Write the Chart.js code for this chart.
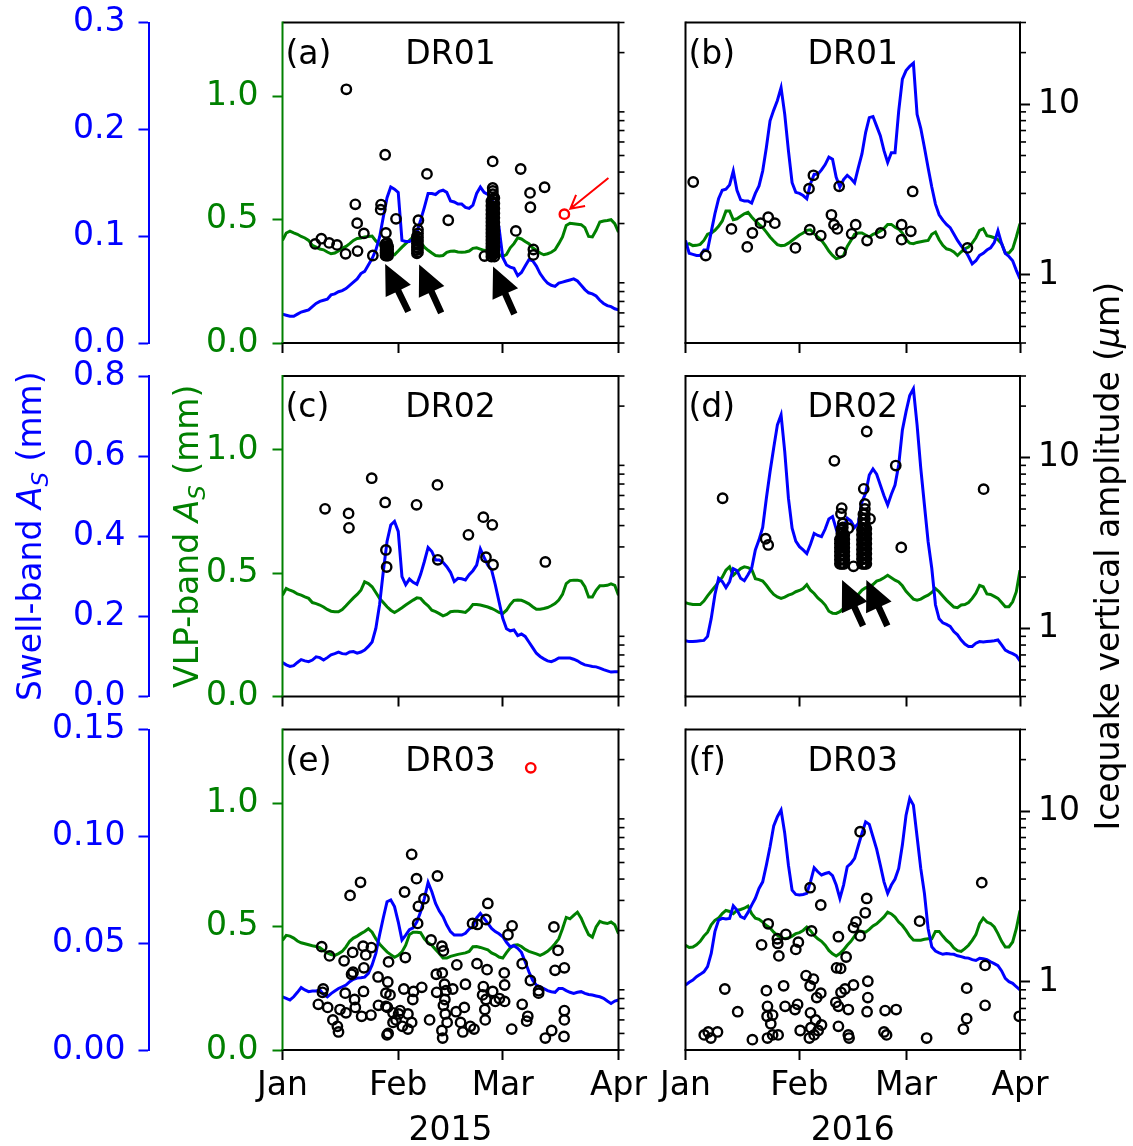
<!DOCTYPE html>
<html>
<head>
<meta charset="utf-8">
<script src="https://cdn.jsdelivr.net/npm/chart.js"></script>
<style>
  html, body { margin: 0; padding: 0; background: #fff; }
  #wrap { position: relative; width: 1133px; height: 1146px; }
  #wrap canvas { position: absolute; left: 0; top: 0; }
</style>
</head>
<body>
<div id="wrap"></div>
<script>
// ---- tick labels / axis values ----
const monthNames = ['Jan', 'Feb', 'Mar', 'Apr'];
const monthDays2015 = [0, 31, 59, 90];
const monthDays2016 = [0, 31, 60, 91];
const yearLabels = ['2015', '2016'];
const stations = ['DR01', 'DR02', 'DR03'];
const panelTags = [['(a)', '(b)'], ['(c)', '(d)'], ['(e)', '(f)']];

const swellTicks = [[0, 0.1, 0.2, 0.3], [0, 0.2, 0.4, 0.6, 0.8], [0, 0.05, 0.10, 0.15]];
const swellMax = [0.3, 0.8, 0.15];
const swellDecimals = [1, 1, 2];
const vlpTicks = [0, 0.5, 1.0];
const vlpMax = 1.3;
const quakeMin = 0.4, quakeMax = 30;
const quakeMajor = [1, 10];
const quakeMinor = [0.4, 0.5, 0.6, 0.7, 0.8, 0.9, 2, 3, 4, 5, 6, 7, 8, 9, 20, 30];

// ---- daily swell-band amplitude (mm), day 0 = 1 Jan ----
const swellA = [0.027,0.026,0.025,0.025,0.027,0.029,0.030,0.031,0.034,0.037,
 0.039,0.040,0.041,0.045,0.046,0.048,0.049,0.051,0.054,0.057,
 0.060,0.065,0.067,0.073,0.079,0.087,0.099,0.118,0.136,0.146,
 0.144,0.141,0.096,0.095,0.095,0.097,0.104,0.115,0.127,0.140,
 0.140,0.139,0.142,0.143,0.141,0.133,0.132,0.130,0.130,0.127,
 0.126,0.129,0.140,0.146,0.141,0.139,0.135,0.127,0.108,0.080,
 0.073,0.071,0.070,0.063,0.066,0.072,0.078,0.077,0.072,0.065,
 0.060,0.056,0.054,0.053,0.056,0.057,0.058,0.059,0.060,0.058,
 0.054,0.050,0.047,0.046,0.044,0.040,0.037,0.035,0.034,0.032,0.031];
const swellB = [0.096,0.084,0.083,0.082,0.082,0.087,0.087,0.104,0.121,0.135,
 0.143,0.144,0.148,0.161,0.143,0.134,0.133,0.133,0.131,0.140,
 0.147,0.161,0.183,0.208,0.218,0.227,0.239,0.214,0.180,0.150,
 0.141,0.140,0.138,0.135,0.149,0.158,0.158,0.162,0.167,0.174,
 0.172,0.155,0.146,0.153,0.157,0.154,0.150,0.164,0.177,0.197,
 0.211,0.212,0.203,0.194,0.180,0.169,0.178,0.178,0.217,0.247,
 0.255,0.259,0.262,0.214,0.201,0.183,0.164,0.146,0.130,0.120,
 0.115,0.111,0.108,0.102,0.096,0.091,0.087,0.081,0.074,0.077,
 0.082,0.084,0.087,0.089,0.094,0.105,0.093,0.084,0.081,0.077,0.068,0.060];
const swellC = [0.085,0.079,0.075,0.077,0.085,0.092,0.089,0.087,0.091,0.099,
 0.097,0.091,0.097,0.104,0.107,0.111,0.107,0.106,0.111,0.112,
 0.108,0.111,0.116,0.125,0.136,0.170,0.229,0.312,0.387,0.428,
 0.437,0.412,0.299,0.279,0.293,0.285,0.280,0.305,0.337,0.372,
 0.362,0.341,0.341,0.335,0.324,0.310,0.287,0.295,0.294,0.291,
 0.304,0.314,0.328,0.368,0.347,0.328,0.316,0.279,0.237,0.195,
 0.169,0.164,0.166,0.152,0.156,0.150,0.136,0.122,0.108,0.100,
 0.094,0.089,0.087,0.091,0.096,0.096,0.096,0.096,0.093,0.089,
 0.083,0.079,0.077,0.075,0.074,0.071,0.067,0.064,0.061,0.062,0.062];
const swellD = [0.139,0.137,0.137,0.138,0.139,0.140,0.150,0.195,0.254,0.295,
 0.287,0.272,0.287,0.319,0.314,0.295,0.289,0.304,0.320,0.366,
 0.391,0.422,0.495,0.561,0.621,0.678,0.703,0.611,0.495,0.420,
 0.388,0.374,0.366,0.357,0.380,0.407,0.402,0.399,0.418,0.443,
 0.449,0.418,0.388,0.420,0.445,0.438,0.422,0.432,0.486,0.507,
 0.553,0.568,0.555,0.528,0.501,0.478,0.505,0.528,0.578,0.665,
 0.711,0.751,0.768,0.678,0.570,0.478,0.387,0.320,0.229,0.194,
 0.184,0.180,0.175,0.162,0.154,0.141,0.131,0.125,0.125,0.133,
 0.137,0.136,0.137,0.138,0.139,0.141,0.129,0.116,0.111,0.107,0.102,0.089];
const swellE = [0.0249,0.0242,0.0234,0.0249,0.0270,0.0292,0.0281,0.0273,0.0276,0.0276,
 0.0281,0.0260,0.0249,0.0264,0.0276,0.0288,0.0296,0.0304,0.0320,0.0331,
 0.0337,0.0338,0.0341,0.0359,0.0398,0.0452,0.0538,0.0619,0.0694,0.0702,
 0.0671,0.0600,0.0515,0.0538,0.0563,0.0572,0.0600,0.0647,0.0710,0.0784,
 0.0741,0.0686,0.0650,0.0624,0.0585,0.0554,0.0538,0.0538,0.0538,0.0546,
 0.0566,0.0577,0.0619,0.0639,0.0616,0.0593,0.0569,0.0554,0.0544,0.0530,
 0.0504,0.0483,0.0488,0.0476,0.0457,0.0413,0.0366,0.0327,0.0304,0.0296,
 0.0288,0.0278,0.0273,0.0270,0.0288,0.0288,0.0278,0.0270,0.0265,0.0270,
 0.0273,0.0265,0.0260,0.0257,0.0253,0.0249,0.0242,0.0229,0.0218,0.0229,0.0234];
const swellF = [0.0304,0.0317,0.0327,0.0343,0.0354,0.0366,0.0390,0.0452,0.0554,0.0608,
 0.0616,0.0613,0.0616,0.0675,0.0655,0.0624,0.0616,0.0644,0.0678,0.0710,
 0.0756,0.0787,0.0865,0.0951,0.1049,0.1092,0.1123,0.1014,0.0865,0.0748,
 0.0728,0.0725,0.0728,0.0733,0.0787,0.0853,0.0834,0.0819,0.0826,0.0831,
 0.0816,0.0772,0.0710,0.0772,0.0858,0.0873,0.0897,0.0956,0.1014,0.1068,
 0.1056,0.0998,0.0940,0.0865,0.0787,0.0733,0.0772,0.0800,0.0850,0.0959,
 0.1099,0.1177,0.1146,0.0998,0.0850,0.0733,0.0569,0.0483,0.0463,0.0455,
 0.0448,0.0452,0.0449,0.0448,0.0441,0.0437,0.0432,0.0430,0.0423,0.0419,
 0.0429,0.0427,0.0423,0.0413,0.0404,0.0395,0.0370,0.0335,0.0320,0.0312,0.0296,0.0281];

// ---- daily VLP-band amplitude (mm) ----
const vlpA = [0.416,0.446,0.454,0.447,0.441,0.432,0.426,0.416,0.396,0.389,
 0.381,0.378,0.369,0.362,0.365,0.373,0.384,0.392,0.403,0.416,
 0.424,0.426,0.430,0.432,0.434,0.414,0.400,0.384,0.373,0.362,
 0.358,0.373,0.389,0.403,0.416,0.430,0.430,0.409,0.389,0.376,
 0.365,0.355,0.353,0.355,0.368,0.372,0.373,0.369,0.368,0.369,
 0.373,0.384,0.386,0.381,0.376,0.373,0.368,0.362,0.358,0.351,
 0.359,0.386,0.403,0.427,0.422,0.412,0.403,0.386,0.376,0.365,
 0.358,0.362,0.368,0.378,0.403,0.430,0.477,0.486,0.484,0.482,
 0.480,0.468,0.432,0.430,0.457,0.491,0.495,0.497,0.500,0.484,0.450];
const vlpB = [0.396,0.403,0.395,0.396,0.400,0.416,0.441,0.446,0.457,0.473,
 0.495,0.535,0.535,0.500,0.504,0.514,0.524,0.530,0.511,0.495,
 0.481,0.468,0.450,0.430,0.414,0.399,0.395,0.396,0.405,0.416,
 0.427,0.438,0.446,0.457,0.459,0.443,0.430,0.416,0.396,0.373,
 0.355,0.342,0.346,0.355,0.392,0.416,0.441,0.446,0.446,0.438,
 0.430,0.441,0.446,0.454,0.464,0.481,0.481,0.470,0.462,0.446,
 0.419,0.405,0.403,0.408,0.411,0.414,0.416,0.441,0.450,0.419,
 0.396,0.382,0.378,0.369,0.355,0.370,0.382,0.389,0.405,0.427,
 0.457,0.464,0.435,0.432,0.427,0.419,0.403,0.365,0.365,0.382,0.430,0.484];
const vlpC = [0.411,0.438,0.431,0.425,0.416,0.411,0.404,0.398,0.381,0.377,
 0.371,0.363,0.353,0.346,0.344,0.344,0.353,0.368,0.384,0.400,
 0.414,0.431,0.465,0.458,0.445,0.422,0.398,0.381,0.364,0.350,
 0.341,0.350,0.360,0.371,0.381,0.391,0.400,0.398,0.381,0.368,
 0.350,0.344,0.336,0.327,0.333,0.344,0.346,0.346,0.344,0.341,
 0.354,0.373,0.373,0.371,0.367,0.363,0.357,0.350,0.341,0.336,
 0.350,0.373,0.390,0.391,0.390,0.384,0.376,0.364,0.354,0.354,
 0.357,0.361,0.368,0.377,0.391,0.414,0.458,0.470,0.472,0.472,
 0.468,0.445,0.404,0.404,0.431,0.449,0.449,0.451,0.457,0.451,0.411];
const vlpD = [0.381,0.376,0.373,0.373,0.373,0.387,0.408,0.427,0.445,0.465,
 0.484,0.512,0.526,0.492,0.505,0.519,0.526,0.523,0.516,0.478,
 0.474,0.468,0.451,0.431,0.414,0.404,0.398,0.403,0.411,0.416,
 0.425,0.430,0.438,0.454,0.431,0.418,0.400,0.387,0.371,0.346,
 0.338,0.337,0.344,0.357,0.373,0.387,0.400,0.414,0.431,0.441,
 0.443,0.454,0.468,0.473,0.482,0.492,0.482,0.472,0.465,0.449,
 0.427,0.411,0.395,0.391,0.395,0.404,0.411,0.422,0.438,0.425,
 0.408,0.391,0.377,0.363,0.360,0.371,0.373,0.381,0.398,0.419,
 0.451,0.445,0.416,0.414,0.406,0.398,0.381,0.364,0.364,0.384,0.425,0.512];
const vlpE = [0.445,0.465,0.462,0.454,0.442,0.435,0.431,0.427,0.423,0.420,
 0.415,0.404,0.394,0.387,0.384,0.391,0.400,0.418,0.441,0.454,
 0.462,0.472,0.481,0.492,0.478,0.451,0.430,0.414,0.398,0.387,
 0.376,0.384,0.398,0.425,0.468,0.478,0.478,0.476,0.451,0.435,
 0.425,0.408,0.391,0.373,0.373,0.380,0.384,0.388,0.391,0.394,
 0.400,0.419,0.420,0.416,0.411,0.406,0.394,0.387,0.377,0.373,
 0.395,0.414,0.425,0.427,0.420,0.408,0.400,0.395,0.390,0.384,
 0.391,0.400,0.414,0.431,0.451,0.492,0.538,0.532,0.546,0.559,
 0.535,0.499,0.468,0.458,0.499,0.522,0.516,0.513,0.519,0.508,0.472];
const vlpF = [0.425,0.416,0.418,0.427,0.441,0.462,0.478,0.508,0.526,0.535,
 0.553,0.566,0.562,0.553,0.566,0.570,0.575,0.584,0.553,0.535,
 0.530,0.519,0.505,0.495,0.478,0.465,0.457,0.451,0.454,0.462,
 0.472,0.476,0.485,0.499,0.484,0.465,0.451,0.441,0.425,0.404,
 0.390,0.381,0.391,0.406,0.425,0.441,0.462,0.484,0.481,0.478,
 0.489,0.503,0.512,0.526,0.540,0.559,0.552,0.539,0.519,0.505,
 0.485,0.462,0.446,0.445,0.445,0.449,0.451,0.451,0.481,0.481,
 0.462,0.445,0.433,0.414,0.403,0.400,0.411,0.425,0.445,0.468,
 0.512,0.535,0.519,0.513,0.499,0.472,0.441,0.418,0.418,0.438,0.492,0.566];

// ---- icequakes: [day, vertical amplitude (um)] ----
const quakesA = [[17.1,12.2],[27.5,5.05],[38.7,3.9],[56.3,4.62],[63.8,4.17],[70.2,3.26],[66.3,3.02],[66.4,2.49],
 [19.5,2.59],[26.4,2.58],[26.3,2.41],[30.4,2.13],[44.4,2.09],[36.4,2.09],[20.0,2.01],[62.5,1.81],[21.8,1.75],
 [27.7,1.76],[10.4,1.63],[8.75,1.52],[12.5,1.54],[14.6,1.50],[20.1,1.38],[16.9,1.33],[24.2,1.30],[54.1,1.29],
 [67.2,1.41],[67.2,1.31],[56.3,3.23],
 // swarm near 28 Jan
 [27.6,1.30],[27.6,1.35],[27.6,1.40],[27.6,1.46],[27.6,1.52],[28.0,1.30],[28.0,1.34],[28.0,1.38],[28.0,1.43],
 [28.0,1.48],[28.0,1.54],[28.3,1.30],[28.3,1.35],[28.3,1.41],[28.3,1.47],
 // swarm near 6 Feb
 [36.0,1.34],[36.0,1.40],[36.0,1.46],[36.0,1.53],[36.0,1.60],[36.0,1.68],[36.3,1.36],[36.3,1.43],[36.3,1.50],
 [36.3,1.58],[36.3,1.66],[36.3,1.75],[36.3,1.84],
 // swarm near 26 Feb
 [55.95,1.28],[55.95,1.34],[55.95,1.40],[55.95,1.46],[55.95,1.53],[55.95,1.60],[55.95,1.68],[55.95,1.76],
 [55.95,1.85],[55.95,1.94],[55.95,2.04],[55.95,2.15],[55.95,2.27],[55.95,2.40],[55.95,2.54],[55.95,2.70],
 [56.35,1.31],[56.35,1.37],[56.35,1.43],[56.35,1.50],[56.35,1.57],[56.35,1.64],[56.35,1.72],[56.35,1.80],
 [56.35,1.89],[56.35,1.99],[56.35,2.09],[56.35,2.21],[56.35,2.33],[56.35,2.47],[56.35,2.62],[56.35,2.79],
 [56.35,2.97],[56.35,3.10],
 [56.75,1.28],[56.75,1.34],[56.75,1.40],[56.75,1.47],[56.75,1.55],[56.75,1.63],[56.75,1.72],[56.75,1.82],
 [56.75,1.92],[56.75,2.03],[56.75,2.16],[56.75,2.30],[56.75,2.45],[56.75,2.62],[56.75,2.82]];
const quakesRedA = [[75.5,2.27]];
const quakesB = [[2.1,3.50],[5.5,1.30],[12.5,1.86],[16.8,1.46],[18.2,1.76],[20.4,2.01],[22.5,2.18],[24.3,2.01],
 [29.9,1.44],[33.6,3.20],[34.8,3.83],[33.8,1.84],[36.8,1.70],[39.7,2.25],[40.4,1.97],[41.3,1.86],[41.8,3.30],
 [42.3,1.36],[45.2,1.74],[46.3,1.97],[49.4,1.59],[53.1,1.76],[58.8,1.97],[58.8,1.61],[61.3,1.80],[61.8,3.08],[76.7,1.44]];
const quakesC = [[11.4,5.01],[17.7,4.71],[17.8,3.88],[23.9,7.57],[27.5,5.46],[27.7,2.88],[27.9,2.29],[35.9,5.29],
 [41.5,6.92],[41.6,2.52],[49.8,3.53],[53.8,4.48],[56.2,4.04],[54.5,2.61],[56.4,2.36],[70.4,2.45]];
const quakesD = [[10.1,5.78],[21.8,3.35],[22.5,3.08],[40.5,9.57],[49.3,14.2],[57.2,8.98],[48.5,6.56],[58.7,2.98],
 [81.1,6.53],[42.5,5.06],[42.3,4.69],[50.2,4.38],[44.3,3.86],[45.7,2.31],
 // swarm near 12 Feb
 [42.0,2.39],[42.0,2.52],[42.0,2.66],[42.0,2.81],[42.0,2.97],[42.0,3.14],[42.0,3.32],
 [42.4,2.39],[42.4,2.53],[42.4,2.68],[42.4,2.84],[42.4,3.01],[42.4,3.19],[42.4,3.38],[42.4,3.58],[42.4,3.80],
 [42.8,2.39],[42.8,2.54],[42.8,2.70],[42.8,2.87],[42.8,3.05],[42.8,3.24],[42.8,3.44],[42.8,3.66],[42.8,3.90],[42.8,4.12],
 [43.2,2.39],[43.2,2.52],[43.2,2.66],[43.2,2.81],[43.2,2.97],[43.2,3.14],[43.2,3.33],[43.2,3.53],
 // swarm near 18 Feb
 [48.0,2.39],[48.0,2.55],[48.0,2.72],[48.0,2.90],[48.0,3.10],[48.0,3.31],[48.0,3.54],[48.0,3.78],
 [48.4,2.39],[48.4,2.55],[48.4,2.73],[48.4,2.92],[48.4,3.12],[48.4,3.34],[48.4,3.57],[48.4,3.82],[48.4,4.08],[48.4,4.36],[48.4,4.66],
 [48.8,2.39],[48.8,2.56],[48.8,2.74],[48.8,2.93],[48.8,3.13],[48.8,3.35],[48.8,3.58],[48.8,3.83],[48.8,4.10],[48.8,4.38],[48.8,4.68],[48.8,5.00],[48.8,5.35],
 [49.2,2.39],[49.2,2.56],[49.2,2.74],[49.2,2.93],[49.2,3.13],[49.2,3.35],[49.2,3.58],[49.2,3.83]];
const quakesE = [[34.6,5.58],[35.9,4.02],[41.5,4.17],[20.9,3.83],[18.1,3.21],[32.7,3.36],[37.9,3.07],[36.4,2.77],
 [55.0,2.88],[36.2,2.20],[54.5,2.32],[50.9,2.20],[52.2,2.17],[61.5,2.13],[72.7,2.10],[60.4,1.89],[39.8,1.76],
 [42.7,1.62],[10.5,1.61],[21.6,1.62],[23.8,1.59],[18.8,1.49],[73.8,1.53],[12.6,1.42],[22.3,1.44],[43.1,1.52],
 [32.9,1.39],[16.5,1.33],[28.4,1.31],[46.7,1.26],[52.1,1.28],[64.2,1.28],[21.8,1.21],[54.8,1.18],[59.4,1.13],
 [73.0,1.17],[75.5,1.21],[18.9,1.14],[18.5,1.11],[41.2,1.11],[42.8,1.13],[25.6,1.07],[66.4,1.02],[59.5,0.96],
 [28.2,1.00],[49.0,0.97],[53.8,0.94],[37.3,0.93],[32.5,0.91],[43.4,0.97],[45.6,0.91],[10.9,0.91],[10.7,0.87],
 [16.8,0.86],[21.7,0.88],[27.7,0.86],[28.8,0.84],[41.3,0.87],[43.8,0.89],[35.1,0.88],[53.6,0.84],[56.3,0.88],
 [68.6,0.89],[68.6,0.86],[19.3,0.79],[34.9,0.79],[43.5,0.79],[54.5,0.79],[57.0,0.77],[58.1,0.80],[59.5,0.77],
 [9.6,0.74],[12.1,0.71],[15.4,0.69],[19.5,0.71],[25.7,0.73],[27.7,0.72],[28.1,0.71],[31.5,0.68],[43.1,0.73],
 [48.7,0.71],[64.2,0.74],[17.0,0.66],[21.2,0.63],[23.7,0.64],[29.6,0.66],[31.1,0.65],[33.6,0.65],[46.5,0.67],
 [54.2,0.69],[75.5,0.68],[65.7,0.63],[30.4,0.60],[39.4,0.60],[43.6,0.65],[54.3,0.60],[65.4,0.59],[75.5,0.60],
 [13.5,0.60],[34.6,0.58],[44.1,0.58],[47.7,0.58],[14.7,0.55],[29.6,0.58],[32.1,0.55],[33.6,0.53],[50.3,0.55],
 [51.3,0.53],[61.4,0.53],[15.0,0.51],[28.3,0.50],[28.0,0.49],[42.7,0.52],[48.3,0.51],[72.1,0.52],[70.4,0.47],
 [75.4,0.48],[42.9,0.47]];
const quakesRedE = [[66.5,17.9]];
const quakesF = [[47.5,7.57],[80.6,3.81],[33.9,3.56],[49.3,3.08],[36.8,2.82],[48.9,2.54],[63.7,2.27],[22.5,2.19],
 [46.4,2.25],[45.7,2.08],[34.3,1.99],[27.3,1.90],[25.0,1.79],[47.5,1.86],[41.6,1.84],[30.7,1.71],[20.7,1.65],
 [25.1,1.68],[30.0,1.55],[25.4,1.42],[43.7,1.40],[81.5,1.25],[41.1,1.21],[42.2,1.20],[32.8,1.09],[34.8,1.04],
 [49.6,1.01],[10.7,0.91],[26.7,0.95],[22.0,0.89],[33.9,0.95],[45.7,0.96],[43.4,0.91],[42.3,0.87],[36.8,0.86],
 [35.7,0.81],[49.6,0.81],[76.5,0.92],[40.9,0.76],[30.5,0.74],[22.3,0.72],[27.1,0.72],[29.8,0.69],[41.6,0.72],
 [44.3,0.69],[34.0,0.66],[49.4,0.67],[54.3,0.68],[57.3,0.69],[81.5,0.73],[14.2,0.67],[22.2,0.63],[23.7,0.64],
 [35.4,0.60],[76.5,0.61],[90.8,0.63],[23.2,0.57],[37.0,0.56],[41.6,0.55],[34.1,0.54],[31.2,0.52],[75.6,0.53],
 [6.2,0.51],[8.7,0.51],[5.1,0.49],[6.9,0.47],[18.2,0.46],[22.3,0.47],[23.7,0.49],[25.2,0.49],[33.7,0.47],
 [35.0,0.49],[36.1,0.52],[44.3,0.49],[44.5,0.47],[54.0,0.51],[54.7,0.49],[65.6,0.47]];

// ---- arrows: [tail day, tail amplitude, head day, head amplitude] ----
const arrowsA = [[33.7,0.61,27.5,1.16],[42.5,0.60,36.6,1.15],[62.1,0.59,56.4,1.12]];
const redArrowsA = [[87.3,3.69,77.1,2.44]];
const arrowsD = [[48.3,1.035,42.6,1.92],[54.9,1.035,49.2,1.92]];

// ---- page layout ----
const W = 1133, H = 1146;
const ROW_TOP = [22.5, 376, 729.5];
const ROW_BOTTOM = [343, 696.5, 1050];
const COL_LEFT = [282.5, 685.5];
const COL_RIGHT = [618.5, 1020];
const SWELL_AXIS_X = 148.5;
const BLUE = '#0000ff', GREEN = '#008000', RED = '#ff0000', BLACK = '#000000';
const FAMILY = 'DejaVu Sans';
const FS = 33;

const panels = [
  {row:0, col:0, swell:swellA, vlp:vlpA, quakes:quakesA, red:quakesRedA, arrows:arrowsA, redArrows:redArrowsA},
  {row:0, col:1, swell:swellB, vlp:vlpB, quakes:quakesB, red:[], arrows:[], redArrows:[]},
  {row:1, col:0, swell:swellC, vlp:vlpC, quakes:quakesC, red:[], arrows:[], redArrows:[]},
  {row:1, col:1, swell:swellD, vlp:vlpD, quakes:quakesD, red:[], arrows:arrowsD, redArrows:[]},
  {row:2, col:0, swell:swellE, vlp:vlpE, quakes:quakesE, red:quakesRedE, arrows:[], redArrows:[]},
  {row:2, col:1, swell:swellF, vlp:vlpF, quakes:quakesF, red:[], arrows:[], redArrows:[]}
];

const series = vals => vals.map((v, i) => ({x: i, y: v}));
const points = list => list.map(([d, a]) => ({x: d, y: a}));
const noPad = s => { s.paddingTop = 0; s.paddingBottom = 0; s.paddingLeft = 0; s.paddingRight = 0; };

function blockArrow(ctx, x0, y0, x1, y1) {
  const dx = x1 - x0, dy = y1 - y0, L = Math.hypot(dx, dy);
  const ux = dx / L, uy = dy / L, nx = -uy, ny = ux;
  const headLen = 30, headHalf = 14, shaftHalf = 3.3;
  const bx = x1 - ux * headLen, by = y1 - uy * headLen;
  ctx.beginPath();
  ctx.moveTo(x0 + nx * shaftHalf, y0 + ny * shaftHalf);
  ctx.lineTo(bx + nx * shaftHalf, by + ny * shaftHalf);
  ctx.lineTo(bx + nx * headHalf, by + ny * headHalf);
  ctx.lineTo(x1, y1);
  ctx.lineTo(bx - nx * headHalf, by - ny * headHalf);
  ctx.lineTo(bx - nx * shaftHalf, by - ny * shaftHalf);
  ctx.lineTo(x0 - nx * shaftHalf, y0 - ny * shaftHalf);
  ctx.closePath();
  ctx.fill();
}

function lineArrow(ctx, x0, y0, x1, y1) {
  const ang = Math.atan2(y0 - y1, x0 - x1), arm = 15, spread = 0.5;
  ctx.beginPath();
  ctx.moveTo(x0, y0); ctx.lineTo(x1, y1);
  ctx.moveTo(x1 + arm * Math.cos(ang + spread), y1 + arm * Math.sin(ang + spread));
  ctx.lineTo(x1, y1);
  ctx.lineTo(x1 + arm * Math.cos(ang - spread), y1 + arm * Math.sin(ang - spread));
  ctx.stroke();
}

// rotated (bottom-to-top) label made of styled pieces
function verticalLabel(ctx, pieces, baseX, centerY, color) {
  ctx.save();
  ctx.translate(baseX, centerY);
  ctx.rotate(-Math.PI / 2);
  ctx.fillStyle = color;
  ctx.textBaseline = 'alphabetic';
  ctx.textAlign = 'left';
  let total = 0;
  for (const p of pieces) { ctx.font = p.font; p.w = ctx.measureText(p.text).width; total += p.w; }
  let x = -total / 2;
  for (const p of pieces) { ctx.font = p.font; ctx.fillText(p.text, x, p.dy || 0); x += p.w; }
  ctx.restore();
}

function decorPlugin(p) {
  return {
    id: 'panelDecor',
    afterDatasetsDraw(chart) {
      const ctx = chart.ctx, a = chart.chartArea, yI = chart.scales.yI;
      ctx.save();
      ctx.lineWidth = 2;
      ctx.strokeStyle = BLACK;
      ctx.beginPath();
      ctx.moveTo(a.left, a.top); ctx.lineTo(a.right, a.top);
      ctx.lineTo(a.right, a.bottom); ctx.lineTo(a.left - 1, a.bottom);
      ctx.stroke();
      ctx.strokeStyle = p.col === 0 ? GREEN : BLACK;
      ctx.beginPath(); ctx.moveTo(a.left, a.top - 1); ctx.lineTo(a.left, a.bottom); ctx.stroke();
      // minor ticks of the icequake log axis
      ctx.lineWidth = 1.6;
      ctx.strokeStyle = BLACK;
      for (const v of quakeMinor) {
        const y = yI.getPixelForValue(v);
        ctx.beginPath(); ctx.moveTo(a.right, y); ctx.lineTo(a.right + 6, y); ctx.stroke();
      }
      ctx.restore();
    },
    afterDraw(chart) {
      const ctx = chart.ctx, a = chart.chartArea, xS = chart.scales.x, yI = chart.scales.yI;
      ctx.save();
      ctx.font = `${FS}px "${FAMILY}"`;
      ctx.fillStyle = BLACK;
      ctx.textBaseline = 'alphabetic';
      ctx.textAlign = 'left';
      ctx.fillText(panelTags[p.row][p.col], a.left + 3, a.top + 41);
      ctx.textAlign = 'center';
      ctx.fillText(stations[p.row], (a.left + a.right) / 2, a.top + 41);

      for (const [d0, v0, d1, v1] of p.arrows) {
        ctx.fillStyle = BLACK;
        blockArrow(ctx, xS.getPixelForValue(d0), yI.getPixelForValue(v0), xS.getPixelForValue(d1), yI.getPixelForValue(v1));
      }
      for (const [d0, v0, d1, v1] of p.redArrows) {
        ctx.strokeStyle = RED; ctx.lineWidth = 2;
        lineArrow(ctx, xS.getPixelForValue(d0), yI.getPixelForValue(v0), xS.getPixelForValue(d1), yI.getPixelForValue(v1));
      }

      const midY = (a.top + a.bottom) / 2;
      const reg = `${FS}px "${FAMILY}"`, ital = `italic ${FS}px "${FAMILY}"`, sub = `italic 23px "${FAMILY}"`;
      if (p.row === 1 && p.col === 0) {
        verticalLabel(ctx, [{text:'Swell-band ', font:reg}, {text:'A', font:ital}, {text:'S', font:sub, dy:7}, {text:' (mm)', font:reg}], 41, midY, BLUE);
        verticalLabel(ctx, [{text:'VLP-band ', font:reg}, {text:'A', font:ital}, {text:'S', font:sub, dy:7}, {text:' (mm)', font:reg}], 198, midY, GREEN);
      }
      if (p.row === 1 && p.col === 1) {
        verticalLabel(ctx, [{text:'Icequake vertical amplitude (', font:reg}, {text:'\u03bc', font:ital}, {text:'m)', font:reg}], 1119, midY + 20, BLACK);
      }
      if (p.row === 2) {
        ctx.font = reg; ctx.fillStyle = BLACK; ctx.textAlign = 'center';
        ctx.fillText(yearLabels[p.col], (a.left + a.right) / 2, 1140);
      }
      ctx.restore();
    }
  };
}

const wrap = document.getElementById('wrap');

for (const p of panels) {
  const leftCol = p.col === 0;
  const monthDays = leftCol ? monthDays2015 : monthDays2016;
  const canvas = document.createElement('canvas');
  canvas.width = W; canvas.height = H;
  canvas.style.width = W + 'px'; canvas.style.height = H + 'px';
  wrap.appendChild(canvas);
  const font = {family: FAMILY, size: FS};
  const marker = {showLine: false, pointRadius: 4.7, pointBorderWidth: 2.4, pointBackgroundColor: 'rgba(0,0,0,0)', clip: 0, order: 0};

  new Chart(canvas, {
    type: 'line',
    data: {
      datasets: [
        Object.assign({data: points(p.quakes), yAxisID: 'yI', pointBorderColor: BLACK}, marker),
        Object.assign({data: points(p.red), yAxisID: 'yI', pointBorderColor: RED}, marker),
        {data: series(p.swell), yAxisID: 'yB', borderColor: BLUE, borderWidth: 3, pointRadius: 0,
         tension: 0, clip: 0, order: 1},
        {data: series(p.vlp), yAxisID: 'yG', borderColor: GREEN, borderWidth: 3, pointRadius: 0,
         tension: 0, clip: 0, order: 2}
      ]
    },
    options: {
      responsive: false,
      devicePixelRatio: 1,
      animation: false,
      events: [],
      layout: {autoPadding: false, padding: {left: leftCol ? 0 : COL_LEFT[1], right: 0, top: ROW_TOP[p.row], bottom: 0}},
      plugins: {legend: {display: false}, tooltip: {enabled: false}},
      scales: {
        x: {
          type: 'linear', position: 'bottom', min: 0, max: monthDays[3],
          afterBuildTicks: s => { s.ticks = monthDays.map(v => ({value: v})); },
          afterFit: s => { s.height = H - ROW_BOTTOM[p.row]; noPad(s); },
          grid: {display: true, drawOnChartArea: false, drawTicks: true, tickLength: 10, tickWidth: 2, tickColor: BLACK},
          border: {display: false},
          ticks: {display: p.row === 2, autoSkip: false, maxRotation: 0, minRotation: 0, padding: 7, color: BLACK, font,
                   callback: v => monthNames[monthDays.indexOf(v)]}
        },
        yB: {
          type: 'linear', position: 'left', weight: 2, display: leftCol, min: 0, max: swellMax[p.row],
          afterBuildTicks: s => { s.ticks = swellTicks[p.row].map(v => ({value: v})); },
          afterFit: s => { s.width = leftCol ? SWELL_AXIS_X : 0; noPad(s); },
          grid: {display: true, drawOnChartArea: false, drawTicks: true, tickLength: 10, tickWidth: 2, tickColor: BLUE},
          border: {display: true, color: BLUE, width: 2},
          ticks: {padding: 13, color: BLUE, font, callback: v => Number(v).toFixed(swellDecimals[p.row])}
        },
        yG: {
          type: 'linear', position: 'left', weight: 1, display: leftCol, min: 0, max: vlpMax,
          afterBuildTicks: s => { s.ticks = vlpTicks.map(v => ({value: v})); },
          afterFit: s => { s.width = leftCol ? COL_LEFT[0] - SWELL_AXIS_X : 0; noPad(s); },
          grid: {display: true, drawOnChartArea: false, drawTicks: true, tickLength: 10, tickWidth: 2, tickColor: GREEN},
          border: {display: false},
          ticks: {padding: 14, color: GREEN, font, callback: v => Number(v).toFixed(1)}
        },
        yI: {
          type: 'logarithmic', position: 'right', min: quakeMin, max: quakeMax,
          afterBuildTicks: s => { s.ticks = quakeMajor.map(v => ({value: v})); },
          afterFit: s => { s.width = W - COL_RIGHT[p.col]; noPad(s); },
          grid: {display: true, drawOnChartArea: false, drawTicks: true, tickLength: 10, tickWidth: 2,
                 tickColor: leftCol ? 'rgba(0,0,0,0)' : BLACK},
          border: {display: false},
          ticks: {display: !leftCol, padding: 8, color: BLACK, font, callback: v => String(Math.round(v))}
        }
      }
    },
    plugins: [decorPlugin(p)]
  });
}
</script>
</body>
</html>
